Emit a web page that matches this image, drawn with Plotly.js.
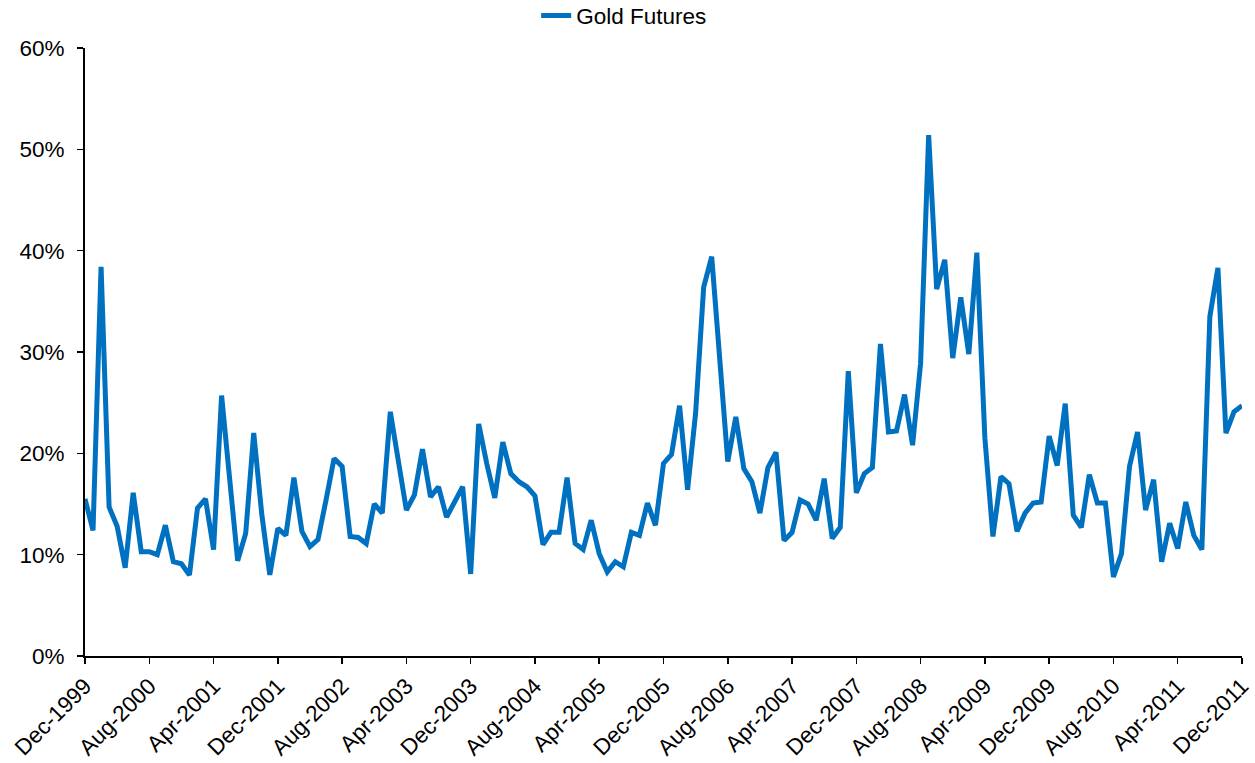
<!DOCTYPE html>
<html>
<head>
<meta charset="utf-8">
<script src="https://cdn.plot.ly/plotly-3.0.1.min.js"></script>
<style>html,body{margin:0;padding:0;background:#fff;}#chart{width:1255px;height:763px;}</style>
</head>
<body>
<div id="chart"></div>
<script>
// Monthly series, Dec-1999 .. Dec-2011 (145 months)
const seriesName = "Gold Futures";
const startYear = 1999;
const startMonthIndex = 11; // December
const monthNames = ["Jan","Feb","Mar","Apr","May","Jun","Jul","Aug","Sep","Oct","Nov","Dec"];

const goldFutures = [
  15.5, 12.4, 38.4, 14.7, 12.8, 8.7, 16.1, 10.3, 10.3, 10.0,
  12.9, 9.3, 9.1, 8.0, 14.6, 15.5, 10.5, 25.7, 17.5, 9.4,
  12.1, 22.0, 14.0, 8.0, 12.6, 11.9, 17.6, 12.3, 10.8, 11.5,
  15.4, 19.5, 18.7, 11.8, 11.7, 11.1, 15.0, 14.1, 24.1, 19.2,
  14.4, 15.9, 20.4, 15.7, 16.7, 13.7, 15.2, 16.7, 8.1, 22.9,
  19.0, 15.6, 21.1, 18.0, 17.2, 16.7, 15.8, 11.0, 12.2, 12.2,
  17.6, 11.1, 10.5, 13.4, 10.1, 8.3, 9.3, 8.8, 12.2, 11.9,
  15.1, 12.9, 19.0, 19.9, 24.7, 16.4, 24.0, 36.4, 39.4, 28.9,
  19.2, 23.6, 18.5, 17.2, 14.1, 18.6, 20.1, 11.4, 12.2, 15.4,
  15.0, 13.4, 17.5, 11.6, 12.7, 28.1, 16.1, 18.0, 18.6, 30.8,
  22.1, 22.2, 25.8, 20.8, 28.9, 51.4, 36.2, 39.1, 29.4, 35.4,
  29.8, 39.8, 21.5, 11.8, 17.7, 17.0, 12.3, 14.1, 15.1, 15.2,
  21.7, 18.8, 24.9, 13.9, 12.7, 17.9, 15.1, 15.1, 7.8, 10.1,
  18.7, 22.1, 14.4, 17.4, 9.3, 13.1, 10.6, 15.2, 11.9, 10.5,
  33.5, 38.3, 22.0, 24.1, 24.7
];

// category labels (one per month)
const months = [];
for (let i = 0; i < goldFutures.length; i++) {
  const m = (startMonthIndex + i) % 12;
  const y = startYear + Math.floor((startMonthIndex + i) / 12);
  months.push(monthNames[m] + "-" + y);
}
const tickLabels = months.filter((_, i) => i % 8 === 0);
const yTicks = [0, 10, 20, 30, 40, 50, 60];

const trace = {
  x: months,
  y: goldFutures,
  type: "scatter",
  mode: "lines",
  name: seriesName,
  line: { color: "#0070C0", width: 5 },
  hoverinfo: "x+y"
};

const font = { family: "Liberation Sans, Arial, sans-serif", size: 22.5, color: "#000" };

const layout = {
  width: 1255,
  height: 763,
  margin: { l: 85, r: 13, t: 48, b: 107, autoexpand: false },
  paper_bgcolor: "#fff",
  plot_bgcolor: "#fff",
  font: font,
  showlegend: true,
  legend: {
    orientation: "h",
    x: 0.466, xanchor: "center",
    y: 1.053, yanchor: "middle",
    font: font,
    bgcolor: "rgba(0,0,0,0)"
  },
  xaxis: {
    type: "category",
    categoryorder: "array",
    categoryarray: months,
    range: [0, months.length - 1],
    tickmode: "array",
    tickvals: tickLabels,
    ticktext: tickLabels,
    tickangle: -45,
    ticks: "outside",
    ticklen: 6,
    tickwidth: 1.5,
    tickcolor: "#000",
    showline: true,
    linecolor: "#000",
    linewidth: 2,
    showgrid: false,
    zeroline: false,
    tickfont: font
  },
  yaxis: {
    range: [0, 60],
    tickmode: "array",
    tickvals: yTicks,
    ticktext: yTicks.map(v => v + "%"),
    ticks: "outside",
    ticklen: 6,
    tickwidth: 1.5,
    tickcolor: "#000",
    ticklabelstandoff: 8,
    showline: true,
    linecolor: "#000",
    linewidth: 2,
    showgrid: false,
    zeroline: false,
    tickfont: font
  }
};

Plotly.newPlot("chart", [trace], layout, { displayModeBar: false, staticPlot: true });
</script>
</body>
</html>
